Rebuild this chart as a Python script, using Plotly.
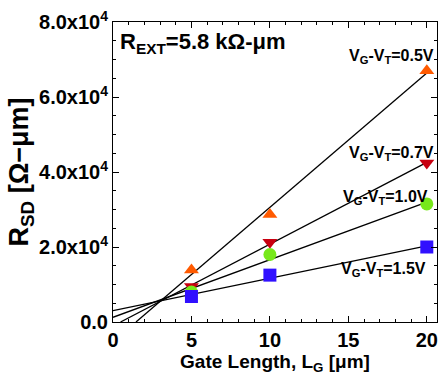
import numpy as np
import plotly.graph_objects as go

gate_length = [5, 10, 20]
r_05 = [13900, 28700, 67000]
r_07 = [9500, 21300, 42400]
r_10 = [8000, 18000, 31500]
r_15 = [6800, 12500, 20000]

series = [
    ("V<sub>G</sub>-V<sub>T</sub>=0.5V", r_05, "triangle-up", "#FF5A00", 20.6, 70700),
    ("V<sub>G</sub>-V<sub>T</sub>=0.7V", r_07, "triangle-down", "#C80010", 20.6, 45000),
    ("V<sub>G</sub>-V<sub>T</sub>=1.0V", r_10, "circle", "#77E81A", 20.2, 33300),
    ("V<sub>G</sub>-V<sub>T</sub>=1.5V", r_15, "square", "#3010FF", 20.05, 14100),
]

y_ticks = [0, 20000, 40000, 60000, 80000]
y_ticktext = ["0.0", "2.0x10<sup>4</sup>", "4.0x10<sup>4</sup>", "6.0x10<sup>4</sup>", "8.0x10<sup>4</sup>"]
x_ticks = [0, 5, 10, 15, 20]

FONT = "Liberation Sans, Arial, sans-serif"
fig = go.Figure()

for name, vals, sym, col, lx, ly in series:
    slope, icpt = np.polyfit(gate_length, vals, 1)
    x0 = max(0.0, -icpt / slope)
    xs = np.array([x0, 20.0])
    fig.add_trace(go.Scatter(x=xs, y=slope * xs + icpt, mode="lines",
                             line=dict(color="black", width=1.3), showlegend=False,
                             hoverinfo="skip"))

for name, vals, sym, col, lx, ly in series:
    fig.add_trace(go.Scatter(x=gate_length, y=vals, mode="markers",
                             marker=dict(symbol=sym, color=col, size=13, line=dict(width=0)),
                             showlegend=False, name=name))
    fig.add_annotation(x=lx, y=ly, text=name, showarrow=False, xanchor="right", yanchor="middle",
                       font=dict(family=FONT, size=16, color="black", weight="bold"))

fig.add_annotation(xref="paper", yref="paper", x=0.015, y=0.93, xanchor="left", yanchor="middle",
                   text="R<sub>EXT</sub>=5.8 kΩ-μm", showarrow=False,
                   font=dict(family=FONT, size=22, color="black", weight="bold"))

axis_common = dict(showline=True, linecolor="black", linewidth=1, mirror="allticks",
                   ticks="inside", ticklen=6, tickcolor="black", showgrid=False, zeroline=False,
                   tickfont=dict(family=FONT, size=20, color="black", weight="bold"))

fig.update_xaxes(range=[0, 20.65], tickvals=x_ticks,
                 minor=dict(dtick=1, ticks="inside", ticklen=3, tickcolor="black"),
                 title=dict(text="Gate Length, L<sub>G</sub> [μm]", standoff=2,
                            font=dict(family=FONT, size=19, color="black", weight="bold")),
                 **axis_common)
fig.update_yaxes(range=[0, 80000], tickvals=y_ticks, ticktext=y_ticktext,
                 minor=dict(dtick=5000, ticks="inside", ticklen=3, tickcolor="black"),
                 title=dict(text="R<sub>SD</sub> [Ω−μm]", standoff=2,
                            font=dict(family=FONT, size=27, color="black", weight="bold")),
                 **axis_common)

fig.update_layout(width=441, height=376, margin=dict(l=113, r=4, t=22, b=54, autoexpand=False),
                  plot_bgcolor="white", paper_bgcolor="white")

fig.write_html("out.html", config={"displayModeBar": False},
               post_script="document.body.style.margin='0px';")
